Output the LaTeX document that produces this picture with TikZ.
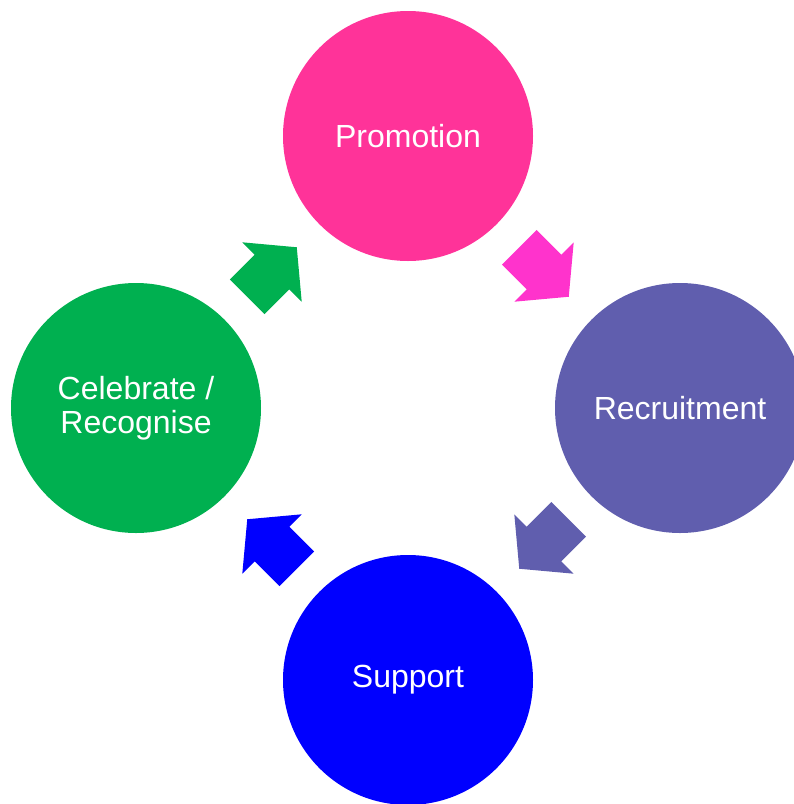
\documentclass[tikz,border=0pt]{standalone}
\usepackage{fontspec}
\setmainfont{Liberation Sans}
\usetikzlibrary{calc}
\definecolor{promcol}{HTML}{FF3399}
\definecolor{arrowpink}{HTML}{FF33CC}
\definecolor{recrcol}{HTML}{605EAE}
\definecolor{suppcol}{HTML}{0000FF}
\definecolor{celecol}{HTML}{00B050}
\tikzset{
  stage/.style={circle, minimum size=250pt, inner sep=0pt, text=white, align=center,
    font=\fontsize{32}{34}\selectfont},
  blockarrow/.pic={\fill[pic actions] (-35,24.5) -- (0,24.5) -- (0,42) -- (35,0) -- (0,-42) -- (0,-24.5) -- (-35,-24.5) -- cycle;}
}
\begin{document}
\begin{tikzpicture}[x=1pt,y=1pt]
\useasboundingbox (0,0) rectangle (794,-804);
\node[stage, fill=promcol] (prom) at (408,-136) {Promotion};
\node[stage, fill=recrcol] (recr) at (680,-408) {Recruitment};
\node[stage, fill=suppcol] (supp) at (408,-680) {Support};
\node[stage, fill=celecol] (cele) at (136,-408) {Celebrate /\\Recognise};
\pic[rotate=-45, fill=arrowpink] at ($(prom)!0.5!(recr)$) {blockarrow};
\pic[rotate=-135, fill=recrcol] at ($(recr)!0.5!(supp)$) {blockarrow};
\pic[rotate=135, fill=suppcol] at ($(supp)!0.5!(cele)$) {blockarrow};
\pic[rotate=45, fill=celecol] at ($(cele)!0.5!(prom)$) {blockarrow};
\end{tikzpicture}
\end{document}
